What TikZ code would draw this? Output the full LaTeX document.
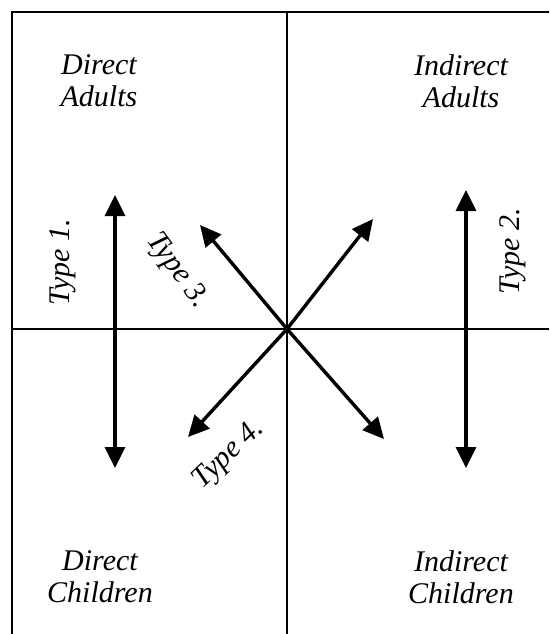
\documentclass[tikz,border=0pt]{standalone}
\usepackage{fontspec}
\setmainfont{Liberation Serif}
\usetikzlibrary{arrows.meta}

\begin{document}
\begin{tikzpicture}[
		x=1pt, y=-1pt,
		% Define styles
		frame/.style={line width=2.6pt},
		group/.style={align=center, font=\itshape\fontsize{30}{32}\selectfont, inner sep=0pt},
		typelabel/.style={font=\itshape\fontsize{30}{32}\selectfont, inner sep=0pt},
		dblarrow/.style={line width=3.4pt,{Triangle[length=21pt,width=20pt]}-{Triangle[length=21pt,width=20pt]}}
		]
		
		\useasboundingbox (0,0) rectangle (549,634);
		\clip (0,0) rectangle (549,634);
		
		% Frame and quadrants
		\draw [frame] (12,12) rectangle (570,660);
		\draw [frame] (287,12) -- (287,660);
		\draw [frame] (12,329) -- (570,329);
		
		% Quadrant labels
		\node (diradults) [group] at (99,81) {Direct\\Adults};
		\node (indadults) [group] at (461,81) {Indirect\\Adults};
		\node (dirchildren) [group] at (100,577) {Direct\\Children};
		\node (indchildren) [group] at (461,577) {Indirect\\Children};
		
		% Arrow ends
		\coordinate (mid) at (287,329);
		\coordinate (t1top) at (115,195);
		\coordinate (t1bot) at (115,468);
		\coordinate (t2top) at (466,190);
		\coordinate (t2bot) at (466,468);
		\coordinate (t3up) at (200,225);
		\coordinate (t3down) at (384,439);
		\coordinate (t4up) at (373,219);
		\coordinate (t4down) at (188,437);
		
		% Draw arrows
		\draw [dblarrow] (t1top) -- (t1bot);
		\draw [dblarrow] (t2top) -- (t2bot);
		\draw [dblarrow] (t3up) -- (mid) -- (t3down);
		\draw [dblarrow] (t4down) -- (mid) -- (t4up);
		
		% Type labels
		\node (type1) [typelabel, rotate=90] at (63,262) {Type 1.};
		\node (type2) [typelabel, rotate=90] at (513,251) {Type 2.};
		\node (type3) [typelabel, rotate=-54] at (177,271) {Type 3.};
		\node (type4) [typelabel, rotate=44] at (229,455) {Type 4.};
		
	\end{tikzpicture}
\end{document}
